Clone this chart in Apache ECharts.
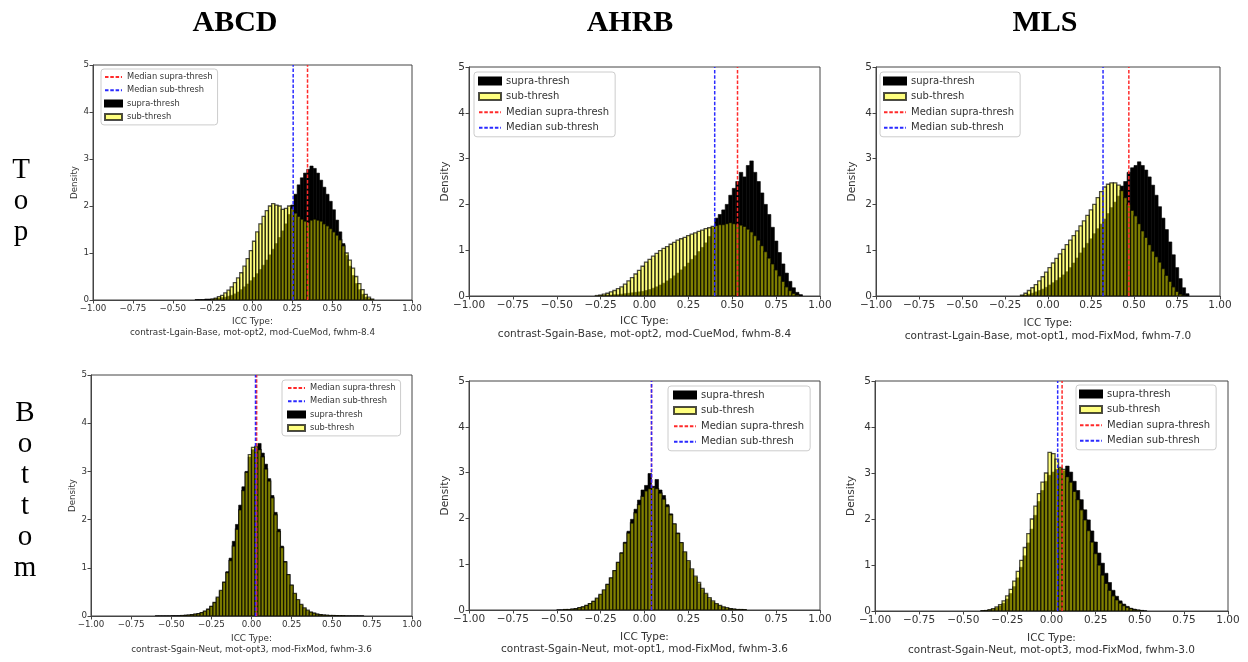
<!DOCTYPE html>
<html>
<head>
<meta charset="utf-8">
<script src="https://cdn.jsdelivr.net/npm/echarts@6/dist/echarts.min.js"></script>
<style>
html, body { margin: 0; padding: 0; background: #ffffff; }
#chart { width: 1248px; height: 662px; }
</style>
</head>
<body>
<div id="chart"></div>
<script>
// Histogram bin width (ICC units) shared by every panel
const BIN = 0.02;

// Column (dataset) and row (condition) headings
const colTitles = ['ABCD', 'AHRB', 'MLS'];
const rowTitles = ['Top', 'Bottom'];

// ICC type shown under each panel, in reading order
const iccTypes = [
  'contrast-Lgain-Base, mot-opt2, mod-CueMod, fwhm-8.4',
  'contrast-Sgain-Base, mot-opt2, mod-CueMod, fwhm-8.4',
  'contrast-Lgain-Base, mot-opt1, mod-FixMod, fwhm-7.0',
  'contrast-Sgain-Neut, mot-opt3, mod-FixMod, fwhm-3.6',
  'contrast-Sgain-Neut, mot-opt1, mod-FixMod, fwhm-3.6',
  'contrast-Sgain-Neut, mot-opt3, mod-FixMod, fwhm-3.0'
];

// Medians per panel
const supraMedians = [0.345, 0.53, 0.47, 0.032, 0.04, 0.06];
const subMedians = [0.255, 0.40, 0.32, 0.025, 0.04, 0.035];

// Axis ticks
const xTicks = [-1, -0.75, -0.5, -0.25, 0, 0.25, 0.5, 0.75, 1];
const yTicks = [0, 1, 2, 3, 4, 5];

// Densities: left edge of the first bin, then one value per bin
const abcdTopSupraStart = -0.36;
const abcdTopSupra = [0.01, 0.01, 0.01, 0.02, 0.02, 0.02, 0.03, 0.04, 0.05, 0.06, 0.08, 0.10,
  0.13, 0.17, 0.22, 0.28, 0.34, 0.41, 0.48, 0.56, 0.65, 0.74, 0.85, 0.96,
  1.08, 1.20, 1.33, 1.47, 1.62, 1.82, 2.02, 2.25, 2.45, 2.60, 2.70, 2.78,
  2.85, 2.80, 2.70, 2.55, 2.40, 2.25, 2.10, 1.92, 1.70, 1.45, 1.20, 0.95,
  0.72, 0.52, 0.35, 0.22, 0.12, 0.06, 0.03, 0.01];
const abcdTopSubStart = -0.26;
const abcdTopSub = [0.02, 0.04, 0.07, 0.10, 0.15, 0.21, 0.28, 0.37, 0.47, 0.58, 0.72, 0.88,
  1.05, 1.25, 1.45, 1.62, 1.78, 1.90, 2.00, 2.05, 2.02, 2.00, 1.93, 1.95,
  2.00, 1.95, 1.85, 1.78, 1.72, 1.68, 1.65, 1.70, 1.72, 1.70, 1.68, 1.62,
  1.58, 1.52, 1.45, 1.38, 1.28, 1.15, 1.00, 0.85, 0.68, 0.50, 0.35, 0.22,
  0.12, 0.06, 0.02];

const ahrbTopSupraStart = -0.26;
const ahrbTopSupra = [0.01, 0.01, 0.02, 0.02, 0.03, 0.03, 0.04, 0.05, 0.06, 0.07, 0.08, 0.09,
  0.10, 0.12, 0.14, 0.17, 0.20, 0.24, 0.28, 0.33, 0.38, 0.44, 0.50, 0.57,
  0.64, 0.72, 0.80, 0.88, 0.97, 1.06, 1.16, 1.30, 1.50, 1.70, 1.78, 1.88,
  2.00, 2.20, 2.35, 2.50, 2.70, 2.60, 2.85, 2.95, 2.70, 2.50, 2.25, 2.00,
  1.78, 1.50, 1.20, 0.95, 0.70, 0.50, 0.32, 0.18, 0.08, 0.03];
const ahrbTopSubStart = -0.28;
const ahrbTopSub = [0.01, 0.02, 0.04, 0.06, 0.09, 0.12, 0.16, 0.20, 0.26, 0.33, 0.40, 0.48,
  0.56, 0.65, 0.74, 0.80, 0.87, 0.93, 0.99, 1.04, 1.08, 1.13, 1.17, 1.22,
  1.25, 1.28, 1.32, 1.35, 1.38, 1.41, 1.44, 1.47, 1.49, 1.52, 1.54, 1.56,
  1.56, 1.58, 1.60, 1.58, 1.57, 1.55, 1.52, 1.46, 1.40, 1.32, 1.22, 1.10,
  0.97, 0.83, 0.70, 0.57, 0.44, 0.32, 0.20, 0.12, 0.06, 0.02];

const mlsTopSupraStart = -0.16;
const mlsTopSupra = [0.01, 0.02, 0.04, 0.06, 0.09, 0.12, 0.15, 0.19, 0.24, 0.29, 0.34, 0.40,
  0.46, 0.53, 0.62, 0.72, 0.83, 0.94, 1.05, 1.15, 1.25, 1.36, 1.47, 1.57,
  1.68, 1.80, 1.93, 2.05, 2.18, 2.40, 2.50, 2.70, 2.80, 2.85, 2.93, 2.85,
  2.75, 2.60, 2.42, 2.20, 1.95, 1.70, 1.45, 1.18, 0.90, 0.62, 0.38, 0.18, 0.05];
const mlsTopSubStart = -0.16;
const mlsTopSub = [0.02, 0.06, 0.12, 0.18, 0.25, 0.33, 0.42, 0.52, 0.62, 0.72, 0.82, 0.92,
  1.02, 1.12, 1.22, 1.32, 1.42, 1.53, 1.64, 1.76, 1.88, 2.00, 2.15, 2.28,
  2.38, 2.44, 2.47, 2.47, 2.42, 2.30, 2.15, 2.00, 1.87, 1.75, 1.58, 1.42,
  1.28, 1.12, 0.98, 0.86, 0.74, 0.60, 0.45, 0.32, 0.20, 0.10, 0.04, 0.01];

const abcdBotSupraStart = -0.60;
const abcdBotSupra = [0.005, 0.005, 0.005, 0.005, 0.005, 0.01, 0.01, 0.01, 0.01, 0.02, 0.02, 0.03,
  0.04, 0.05, 0.07, 0.10, 0.14, 0.20, 0.28, 0.38, 0.52, 0.70, 0.92, 1.20,
  1.55, 1.90, 2.30, 2.68, 3.00, 3.30, 3.45, 3.50, 3.58, 3.38, 3.15, 2.85,
  2.50, 2.15, 1.80, 1.45, 1.13, 0.86, 0.64, 0.46, 0.33, 0.23, 0.16, 0.11,
  0.08, 0.06, 0.04, 0.03, 0.02, 0.015, 0.01, 0.01, 0.01, 0.005, 0.005, 0.005,
  0.005, 0.005, 0.005, 0.005, 0.005];
const abcdBotSubStart = -0.44;
const abcdBotSub = [0.01, 0.01, 0.02, 0.03, 0.04, 0.05, 0.07, 0.10, 0.14, 0.20, 0.28, 0.39,
  0.53, 0.70, 0.90, 1.15, 1.45, 1.80, 2.20, 2.60, 2.98, 3.35, 3.50, 3.52,
  3.45, 3.30, 3.05, 2.80, 2.45, 2.10, 1.75, 1.42, 1.12, 0.86, 0.64, 0.47,
  0.34, 0.24, 0.17, 0.12, 0.08, 0.06, 0.04, 0.03, 0.02, 0.015, 0.01, 0.01,
  0.005, 0.005, 0.005];

const ahrbBotSupraStart = -0.50;
const ahrbBotSupra = [0.005, 0.005, 0.01, 0.01, 0.02, 0.03, 0.05, 0.07, 0.10, 0.14, 0.19, 0.25,
  0.33, 0.43, 0.56, 0.70, 0.86, 1.04, 1.25, 1.48, 1.72, 1.98, 2.20, 2.40,
  2.62, 2.72, 2.98, 2.70, 2.85, 2.62, 2.50, 2.30, 2.10, 1.88, 1.68, 1.47,
  1.26, 1.06, 0.88, 0.72, 0.57, 0.45, 0.34, 0.25, 0.18, 0.13, 0.09, 0.06,
  0.04, 0.03, 0.02, 0.01, 0.01, 0.005];
const ahrbBotSubStart = -0.46;
const ahrbBotSub = [0.01, 0.01, 0.02, 0.03, 0.05, 0.07, 0.10, 0.14, 0.19, 0.26, 0.34, 0.44,
  0.56, 0.70, 0.86, 1.04, 1.24, 1.46, 1.68, 1.90, 2.12, 2.30, 2.48, 2.60,
  2.65, 2.68, 2.65, 2.55, 2.42, 2.26, 2.08, 1.88, 1.67, 1.47, 1.27, 1.08,
  0.90, 0.74, 0.60, 0.47, 0.36, 0.27, 0.20, 0.14, 0.10, 0.07, 0.05, 0.03,
  0.02, 0.01, 0.01, 0.005];

const mlsBotSupraStart = -0.40;
const mlsBotSupra = [0.005, 0.01, 0.02, 0.04, 0.07, 0.11, 0.17, 0.26, 0.38, 0.53, 0.72, 0.95,
  1.20, 1.48, 1.78, 2.08, 2.38, 2.62, 2.82, 2.95, 3.02, 3.08, 3.10, 3.05,
  3.15, 3.02, 2.82, 2.62, 2.42, 2.20, 1.98, 1.74, 1.50, 1.26, 1.04, 0.82,
  0.62, 0.45, 0.32, 0.22, 0.15, 0.10, 0.06, 0.04, 0.02, 0.01, 0.005];
const mlsBotSubStart = -0.40;
const mlsBotSub = [0.005, 0.01, 0.03, 0.05, 0.09, 0.14, 0.22, 0.33, 0.47, 0.65, 0.86, 1.10,
  1.38, 1.68, 2.00, 2.28, 2.55, 2.80, 3.00, 3.45, 3.42, 3.30, 3.12, 3.08,
  2.92, 2.80, 2.60, 2.42, 2.20, 1.98, 1.75, 1.50, 1.25, 1.00, 0.78, 0.60,
  0.45, 0.33, 0.24, 0.17, 0.12, 0.08, 0.05, 0.03, 0.02, 0.01];

const supraStarts = [abcdTopSupraStart, ahrbTopSupraStart, mlsTopSupraStart, abcdBotSupraStart, ahrbBotSupraStart, mlsBotSupraStart];
const supraValues = [abcdTopSupra, ahrbTopSupra, mlsTopSupra, abcdBotSupra, ahrbBotSupra, mlsBotSupra];
const subStarts = [abcdTopSubStart, ahrbTopSubStart, mlsTopSubStart, abcdBotSubStart, ahrbBotSubStart, mlsBotSubStart];
const subValues = [abcdTopSub, ahrbTopSub, mlsTopSub, abcdBotSub, ahrbBotSub, mlsBotSub];

// Series names as shown in legends
const SUPRA = 'supra-thresh';
const SUB = 'sub-thresh';
const MED_SUPRA = 'Median supra-thresh';
const MED_SUB = 'Median sub-thresh';

// Panel geometry and typography (pixels)
const panels = [
  { grid: [93, 65, 319, 235], tick: 8.7, name: 8.8, nameLH: 11, nameGap: 16, yGap: 10, legendFont: 8.3, legendLH: 10,
    legend: { left: 101, top: 69, gap: 3.3, iw: 17, ih: 6, pad: [3, 5, 3, 3] }, medFirst: true },
  { grid: [469, 67, 351, 229], tick: 10.5, name: 10.5, nameLH: 13, nameGap: 19, yGap: 18, legendFont: 10, legendLH: 12,
    legend: { left: 474, top: 72, gap: 3.6, iw: 22, ih: 7, pad: [3, 6, 3, 4] }, medFirst: false },
  { grid: [876, 67, 344, 229], tick: 10.5, name: 10.5, nameLH: 13, nameGap: 21, yGap: 18, legendFont: 10, legendLH: 12,
    legend: { left: 880, top: 72, gap: 3.6, iw: 22, ih: 7, pad: [3, 6, 3, 3] }, medFirst: false },
  { grid: [91, 375, 321, 241], tick: 8.7, name: 8.8, nameLH: 11, nameGap: 17, yGap: 14, legendFont: 8.3, legendLH: 10,
    legend: { left: 282, top: 380, gap: 3.3, iw: 17, ih: 6, pad: [3, 5, 3, 5] }, medFirst: true },
  { grid: [469, 381, 351, 229], tick: 10.5, name: 10.5, nameLH: 12, nameGap: 21, yGap: 18, legendFont: 10, legendLH: 12,
    legend: { left: 668, top: 386, gap: 3.6, iw: 22, ih: 7, pad: [3, 6, 3, 5] }, medFirst: false },
  { grid: [875, 381, 353, 230], tick: 10.5, name: 10.5, nameLH: 12, nameGap: 21, yGap: 18, legendFont: 10, legendLH: 12,
    legend: { left: 1076, top: 385, gap: 3.6, iw: 22, ih: 7, pad: [3, 6, 3, 3] }, medFirst: false }
];

const FONT = '"DejaVu Sans", sans-serif';
const AXIS_COLOR = '#444';
const TEXT_COLOR = '#333';
const RED = '#ff2a2a';
const BLUE = '#2a2aff';
const fmtTick = v => (v < 0 ? '\u2212' : '') + Math.abs(v).toFixed(2);

function histSeries(name, start, values, idx, fill, stroke, lw) {
  return {
    type: 'custom',
    name: name,
    xAxisIndex: idx,
    yAxisIndex: idx,
    clip: true,
    itemStyle: { color: fill, borderColor: stroke, borderWidth: 1 },
    encode: { x: 0, y: 1 },
    data: values.map((v, i) => [start + i * BIN, v]),
    renderItem: function (params, api) {
      const x0 = api.value(0);
      const h = api.value(1);
      const a = api.coord([x0, h]);
      const b = api.coord([x0 + BIN, 0]);
      return {
        type: 'rect',
        shape: { x: a[0], y: a[1], width: b[0] - a[0], height: b[1] - a[1] },
        style: { fill: fill, stroke: stroke, lineWidth: lw }
      };
    }
  };
}

// Vertical dashed median line; the transparent item style keeps the legend entry a plain dashed line
function medianSeries(name, value, idx, color) {
  return {
    type: 'line',
    name: name,
    xAxisIndex: idx,
    yAxisIndex: idx,
    symbol: 'none',
    silent: true,
    z: 5,
    lineStyle: { color: color, width: 1.5, type: [3.5, 1.8] },
    itemStyle: { color: color, opacity: 0 },
    data: [[value, 0], [value, 5]]
  };
}

const grids = [], xAxes = [], yAxes = [], legends = [], series = [];

panels.forEach((p, i) => {
  const [l, t, w, h] = p.grid;
  grids.push({ left: l, top: t, width: w, height: h, show: true, borderColor: AXIS_COLOR, borderWidth: 1, backgroundColor: 'transparent' });
  xAxes.push({
    type: 'value', gridIndex: i, min: xTicks[0], max: xTicks[xTicks.length - 1], interval: 0.25,
    axisLine: { show: true, onZero: false, lineStyle: { color: AXIS_COLOR } },
    axisTick: { show: true, length: 3.5, lineStyle: { color: AXIS_COLOR } },
    splitLine: { show: false },
    axisLabel: { fontFamily: FONT, fontSize: p.tick, color: TEXT_COLOR, margin: 4, formatter: fmtTick, showMinLabel: true, showMaxLabel: true },
    name: 'ICC Type:\n' + iccTypes[i],
    nameLocation: 'middle',
    nameGap: p.nameGap,
    nameTextStyle: { fontFamily: FONT, fontSize: p.name, color: TEXT_COLOR, lineHeight: p.nameLH }
  });
  yAxes.push({
    type: 'value', gridIndex: i, min: yTicks[0], max: yTicks[yTicks.length - 1], interval: 1,
    axisLine: { show: true, onZero: false, lineStyle: { color: AXIS_COLOR } },
    axisTick: { show: true, length: 3.5, lineStyle: { color: AXIS_COLOR } },
    splitLine: { show: false },
    axisLabel: { fontFamily: FONT, fontSize: p.tick, color: TEXT_COLOR, margin: 4 },
    name: 'Density',
    nameLocation: 'middle',
    nameGap: p.yGap,
    nameTextStyle: { fontFamily: FONT, fontSize: p.tick, color: TEXT_COLOR }
  });

  series.push(histSeries(SUPRA, supraStarts[i], supraValues[i], i, '#000000', '#000000', 0.6));
  series.push(histSeries(SUB, subStarts[i], subValues[i], i, 'rgba(255,255,0,0.5)', 'rgba(0,0,0,0.7)', 1.3));
  series.push(medianSeries(MED_SUPRA, supraMedians[i], i, RED));
  series.push(medianSeries(MED_SUB, subMedians[i], i, BLUE));

  const histItems = [{ name: SUPRA, icon: 'rect' }, { name: SUB, icon: 'rect' }];
  const medItems = [
    { name: MED_SUPRA, icon: 'inherit', itemStyle: { opacity: 0 } },
    { name: MED_SUB, icon: 'inherit', itemStyle: { opacity: 0 } }
  ];
  legends.push({
    orient: 'vertical',
    left: p.legend.left,
    top: p.legend.top,
    padding: p.legend.pad,
    itemGap: p.legend.gap,
    itemWidth: p.legend.iw,
    itemHeight: p.legend.ih,
    backgroundColor: 'rgba(255,255,255,0.8)',
    borderColor: '#cccccc',
    borderWidth: 1,
    borderRadius: 3,
    selectedMode: false,
    textStyle: { fontFamily: FONT, fontSize: p.legendFont, color: TEXT_COLOR, lineHeight: p.legendLH },
    data: p.medFirst ? medItems.concat(histItems) : histItems.concat(medItems)
  });
});

// Column headings and stacked row labels
const colCenters = [235, 630, 1045];
const graphics = colTitles.map((t, i) => ({
  type: 'text', x: colCenters[i], y: 23,
  style: { text: t, font: 'bold 30px "Liberation Serif", serif', fill: '#000', textAlign: 'center', textVerticalAlign: 'middle' }
}));
const rowLabelPos = [[21, 155], [25, 398]];
rowTitles.forEach((t, i) => {
  graphics.push({
    type: 'text', x: rowLabelPos[i][0], y: rowLabelPos[i][1],
    style: { text: t.split('').join('\n'), font: '29px "Liberation Serif", serif', lineHeight: 31, fill: '#000', textAlign: 'center' }
  });
});

const chart = echarts.init(document.getElementById('chart'), null, { renderer: 'canvas' });
chart.setOption({
  animation: false,
  backgroundColor: '#ffffff',
  grid: grids,
  xAxis: xAxes,
  yAxis: yAxes,
  legend: legends,
  series: series,
  graphic: graphics
});
</script>
</body>
</html>
